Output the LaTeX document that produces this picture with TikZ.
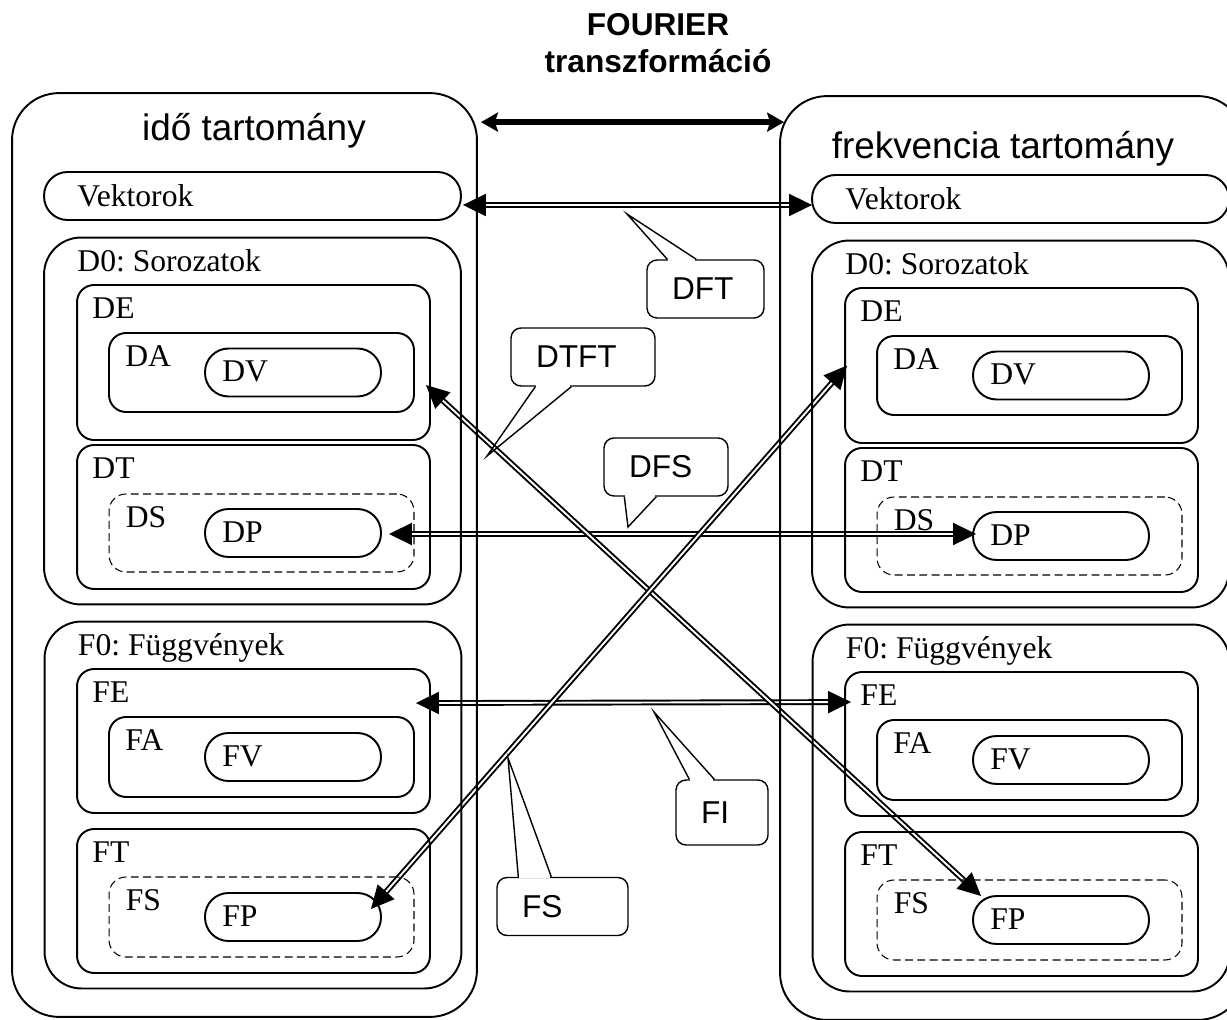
\documentclass[tikz,border=0pt]{standalone}
\usepackage{fontspec}
\setmainfont{Liberation Serif}
\setsansfont{Liberation Sans}
\usetikzlibrary{arrows.meta,calc,backgrounds}
\frenchspacing

\begin{document}
\begin{tikzpicture}[
  x=0.02cm, y=-0.02cm,
  box/.style={draw, line width=1.1pt, rounded corners=0.34cm, inner sep=0pt},
  realm/.style={box, rounded corners=0.94cm, minimum width=9.3cm, minimum height=18.48cm},
  family/.style={box, rounded corners=0.74cm, minimum width=8.34cm, minimum height=7.34cm},
  kind/.style={box, minimum width=7.06cm, minimum height=2.88cm},
  sub/.style={box, minimum width=6.1cm, minimum height=1.6cm},
  pill/.style={box, rounded corners=0.47cm, minimum width=3.52cm, minimum height=0.96cm},
  dashedbox/.style={line width=0.6pt, dash pattern=on 4.5pt off 2.5pt},
  lbl/.style={anchor=north west, inner xsep=#1, inner ysep=0.26cm, font=\fontsize{18}{18}\selectfont},
  tag/.style 2 args={label={[lbl=#1]north west:#2}},
  realmname/.style={font=\sffamily\fontsize{21}{21}\selectfont, anchor=base},
  dbl/.style={double, double distance=1.1pt, line width=1.1pt,
    >={Triangle[length=0.46cm,width=0.44cm]}, <->},
  fourier/.style={line width=3pt, >={Stealth[length=0.34cm,width=0.38cm,inset=0.06cm]}, <->},
  bubble/.style={draw, line width=0.8pt, rounded corners=0.2cm, inner xsep=0.5cm, inner ysep=0pt,
    minimum height=1.16cm, align=left, font=\sffamily\fontsize{18}{18}\selectfont},
  pointer/.style={line width=0.8pt, line join=miter}
  ]

  \useasboundingbox (0,0) rectangle (1227,1020);

  \node[font=\sffamily\bfseries\fontsize{18}{21}\selectfont, align=center, anchor=north, inner sep=0pt]
    (title) at (658,13) {FOURIER\\transzformáció};

  % time domain
  \begin{scope}
    \node[realm] (lDom) at (244.5,555) {};
    \node[realmname] (lName) at (254,141) {idő tartomány};
    \node[pill, minimum width=8.34cm, tag={0.68cm}{Vektorok}] (lVek) at (252.5,196) {};

    \node[family, tag={0.68cm}{D0: Sorozatok}] (lD0) at (252.5,421) {};
    \node[kind, minimum height=3.1cm, tag={0.32cm}{DE}] (lDE) at (253.5,362.5) {};
    \node[sub, minimum height=1.58cm, tag={0.34cm}{DA}] (lDA) at (261.5,372.5) {};
    \node[pill, tag={0.36cm}{DV}] (lDV) at (293,372.5) {};
    \node[kind, tag={0.32cm}{DT}] (lDT) at (253.5,517) {};
    \node[sub, dashedbox, minimum height=1.56cm, tag={0.34cm}{DS}] (lDS) at (261.5,533) {};
    \node[pill, tag={0.36cm}{DP}] (lDP) at (293,533) {};

    \node[family, tag={0.68cm}{F0: Függvények}] (lF0) at (253,805) {};
    \node[kind, tag={0.32cm}{FE}] (lFE) at (253.5,741) {};
    \node[sub, tag={0.34cm}{FA}] (lFA) at (261.5,757) {};
    \node[pill, tag={0.36cm}{FV}] (lFV) at (293,757) {};
    \node[kind, tag={0.32cm}{FT}] (lFT) at (253.5,901) {};
    \node[sub, dashedbox, tag={0.34cm}{FS}] (lFS) at (261.5,917) {};
    \node[pill, tag={0.36cm}{FP}] (lFP) at (293,917) {};
  \end{scope}

  % frequency domain
  \begin{scope}[shift={(768,3)}]
    \node[realm] (rDom) at (244.5,555) {};
    \node[realmname] (rName) at (235,156) {frekvencia tartomány};
    \node[pill, minimum width=8.34cm, tag={0.68cm}{Vektorok}] (rVek) at (252.5,196) {};

    \node[family, tag={0.68cm}{D0: Sorozatok}] (rD0) at (252.5,421) {};
    \node[kind, minimum height=3.1cm, tag={0.32cm}{DE}] (rDE) at (253.5,362.5) {};
    \node[sub, minimum height=1.58cm, tag={0.34cm}{DA}] (rDA) at (261.5,372.5) {};
    \node[pill, tag={0.36cm}{DV}] (rDV) at (293,372.5) {};
    \node[kind, tag={0.32cm}{DT}] (rDT) at (253.5,517) {};
    \node[sub, dashedbox, minimum height=1.56cm, tag={0.34cm}{DS}] (rDS) at (261.5,533) {};
    \node[pill, tag={0.36cm}{DP}] (rDP) at (293,533) {};

    \node[family, tag={0.68cm}{F0: Függvények}] (rF0) at (253,805) {};
    \node[kind, tag={0.32cm}{FE}] (rFE) at (253.5,741) {};
    \node[sub, tag={0.34cm}{FA}] (rFA) at (261.5,757) {};
    \node[pill, tag={0.36cm}{FV}] (rFV) at (293,757) {};
    \node[kind, tag={0.32cm}{FT}] (rFT) at (253.5,901) {};
    \node[sub, dashedbox, tag={0.34cm}{FS}] (rFS) at (261.5,917) {};
    \node[pill, tag={0.36cm}{FP}] (rFP) at (293,917) {};
  \end{scope}

  % transforms between the two domains
  \begin{scope}[on background layer]
    \draw[fourier] ($(lDom.north east)+(3,30)$) -- ($(rDom.north west)+(5,27)$);
    \draw[dbl] ($(lVek.east)+(1,9)$) -- ($(rVek.west)+(1,6)$);
    \draw[dbl] ($(lDP.east)+(7,1)$) -- ($(rDP.west)+(4,-2)$);
    \draw[dbl] ($(lFE.north east)+(-15,35)$) -- ($(rFE.north west)+(7,31)$);
    \draw[dbl] ($(lDE.east)+(-5,22.5)$) -- ($(rFP.north west)+(9,1)$);
    \draw[dbl] ($(lFP.north east)+(-11,17)$) -- ($(rDE.west)+(3,0)$);
  \end{scope}

  % callouts
  \node[bubble, text width=1.34cm] (dft) at (705.5,289) {DFT};
  \coordinate (dftTip) at (627,214);
  \fill[white] ($(dft.north west)+(22,-1.5)$) rectangle ($(dft.north west)+(49,1.5)$);
  \draw[pointer] ($(dft.north west)+(21,0)$) -- (dftTip) -- ($(dft.north west)+(50,0)$);

  \node[bubble, text width=1.88cm] (dtft) at (583,357) {DTFT};
  \coordinate (dtftTip) at (487,456);
  \fill[white] ($(dtft.south west)+(26,-1.5)$) rectangle ($(dtft.south west)+(60,1.5)$);
  \draw[pointer] ($(dtft.south west)+(25,0)$) -- (dtftTip) -- ($(dtft.south west)+(61,0)$);

  \node[bubble, text width=1.48cm] (dfs) at (666,467) {DFS};
  \coordinate (dfsTip) at (628,527);
  \fill[white] ($(dfs.south west)+(22,-1.5)$) rectangle ($(dfs.south west)+(52,1.5)$);
  \draw[pointer] ($(dfs.south west)+(21,0)$) -- (dfsTip) -- ($(dfs.south west)+(53,0)$);

  \node[bubble, text width=0.84cm, minimum height=1.3cm] (fi) at (722,812.5) {FI};
  \coordinate (fiTip) at (654,712);
  \fill[white] ($(fi.north west)+(15,-1.5)$) rectangle ($(fi.north west)+(38,1.5)$);
  \draw[pointer] ($(fi.north west)+(14,0)$) -- (fiTip) -- ($(fi.north west)+(39,0)$);

  \node[bubble, text width=1.62cm] (fs) at (562.5,906.5) {FS};
  \coordinate (fsTip) at (508,758);
  \fill[white] ($(fs.north west)+(23,-1.5)$) rectangle ($(fs.north west)+(54,1.5)$);
  \draw[pointer] ($(fs.north west)+(22,0)$) -- (fsTip) -- ($(fs.north west)+(55,0)$);
\end{tikzpicture}
\end{document}
